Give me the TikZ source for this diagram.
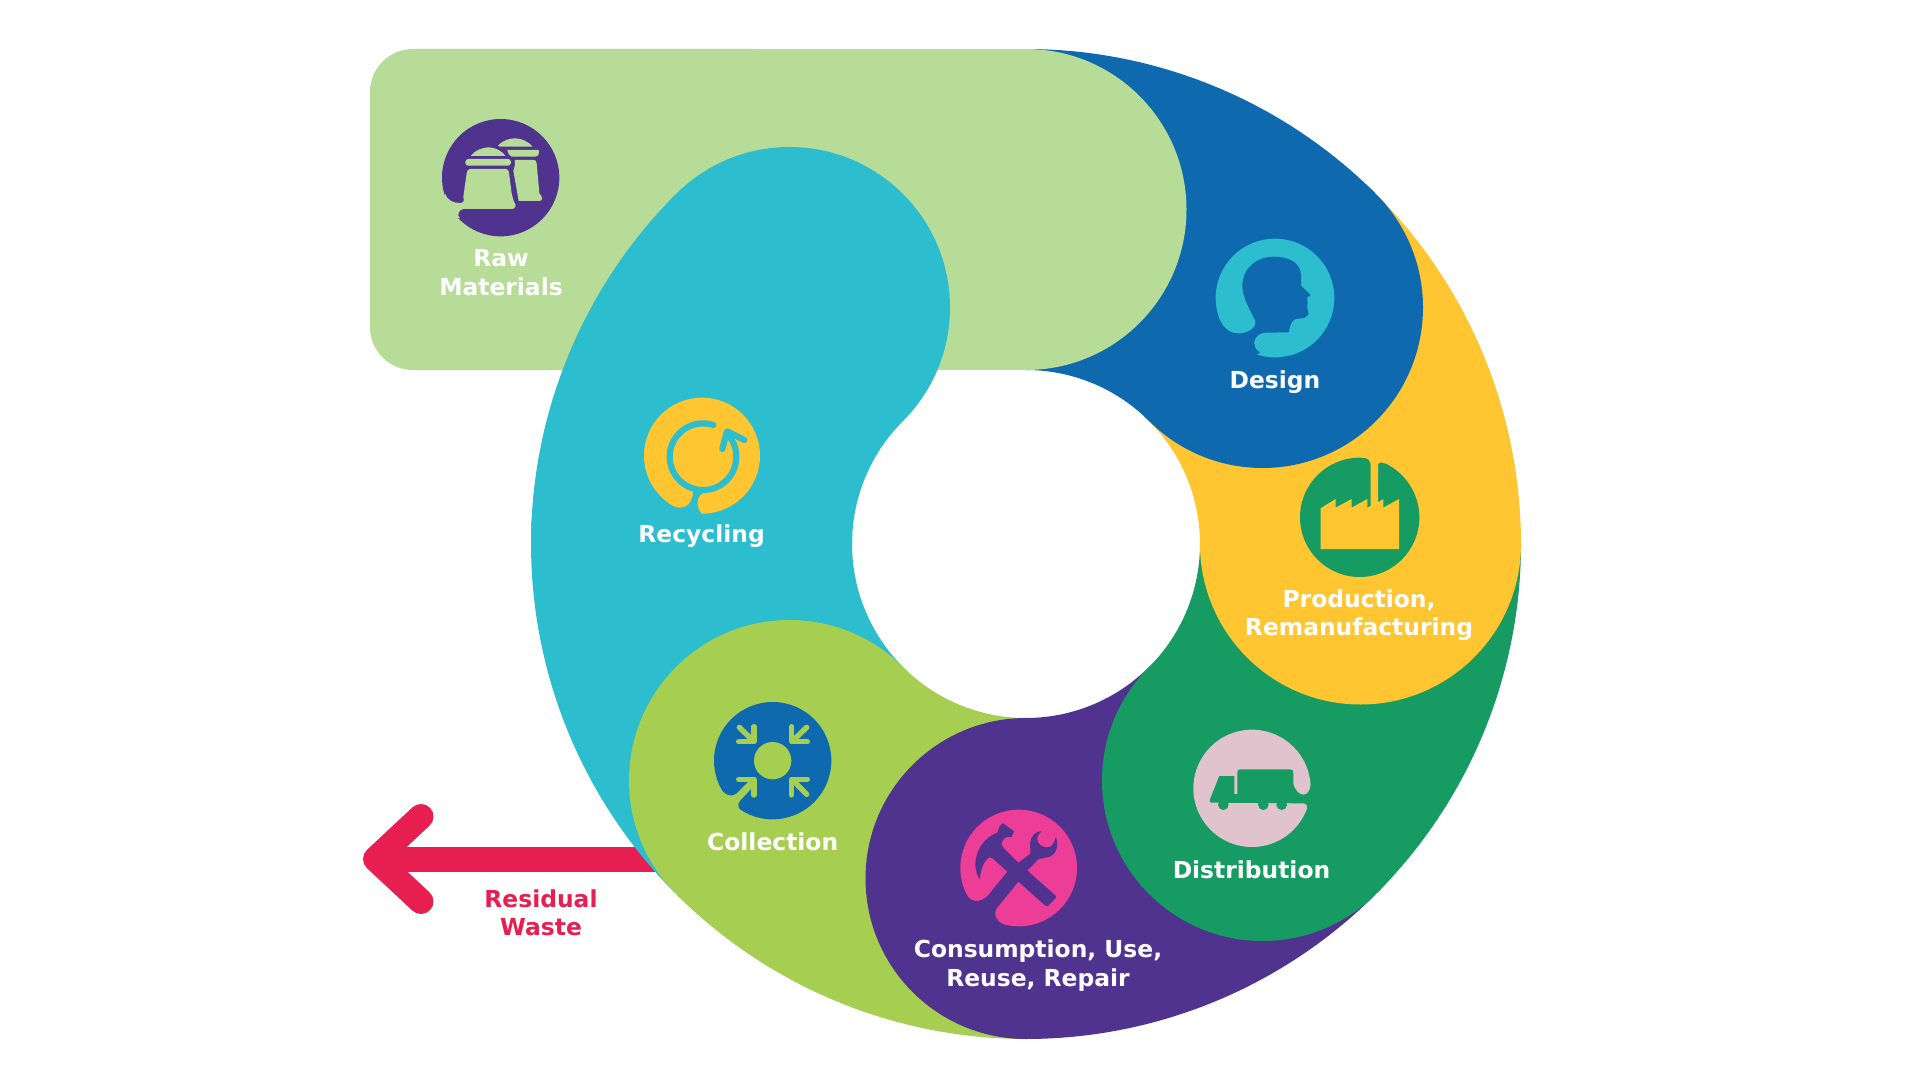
\documentclass[tikz,border=0pt]{standalone}
\usepackage{fontspec}
\setmainfont{DejaVu Sans}
\definecolor{cLight}{HTML}{B6DC97}
\definecolor{cTeal}{HTML}{2CBDCE}
\definecolor{cBlue}{HTML}{0F69AF}
\definecolor{cYellow}{HTML}{FFC631}
\definecolor{cGreen}{HTML}{169B62}
\definecolor{cPurple}{HTML}{50338F}
\definecolor{cLime}{HTML}{A6CE51}
\definecolor{cRed}{HTML}{E71F51}
\definecolor{cPink}{HTML}{EC3D97}
\definecolor{cRose}{HTML}{E0C3CD}
\tikzset{
  lbl/.style={font=\fontsize{23.4}{28.4}\selectfont\bfseries,text=white,align=center,inner sep=0pt},
  redlbl/.style={lbl,text=cRed},
  band/.style={line width=321pt,line cap=butt},
  zoomed/.style={shift={#1},scale=0.33333},
  wastearrow/.style={draw=cRed,line width=25pt,line cap=round,line join=round},
  gather/.style={draw=cLime,line width=5.4pt,line cap=round,line join=round},
  recyc/.style={draw=cTeal,line width=6.2pt,line cap=round,line join=round}
}
\newcommand{\headdot}[2]{\fill[#1] (#2) circle (160.5);}
\begin{document}
\begin{tikzpicture}[x=1pt,y=1pt,yscale=-1]
\fill[white] (0,0) rectangle (1920,1081);
\useasboundingbox (0,0) rectangle (1920,1081);
% centres of the heads (r=334.5 round 1026,544)
\coordinate (hTop) at (1026,209.5);
\coordinate (hDesign) at (1262.5,307.5);
\coordinate (hProd) at (1360.5,544);
\coordinate (hDist) at (1262.5,780.5);
\coordinate (hCons) at (1026,878.5);
\coordinate (hColl) at (789.5,780.5);
\coordinate (hLeft) at (691.5,544);
\coordinate (hRecy) at (789.5,307.5);
% waste arrow
\coordinate (aTip) at (375.5,859);
\coordinate (aWingA) at (421,816.5);
\coordinate (aWingB) at (421,901.5);
\coordinate (aEnd) at (670,859);
\draw[wastearrow] (aWingA) -- (aTip) -- (aWingB);
\draw[wastearrow,line cap=butt] (aTip) -- (aEnd);
% bands, painted so that every head lies over the tail of the next one
\draw[band,cTeal] (hColl) arc (135:183:334.5);
\draw[band,cLime] (hCons) arc (90:135:334.5);
\headdot{cLime}{hColl}
\draw[band,cPurple] (hDist) arc (45:90:334.5);
\headdot{cPurple}{hCons}
\draw[band,cGreen] (hProd) arc (0:45:334.5);
\headdot{cGreen}{hDist}
\draw[band,cYellow] (hDesign) arc (-45:0:334.5);
\headdot{cYellow}{hProd}
\draw[band,cBlue] (hTop) arc (-90:-45:334.5);
\headdot{cBlue}{hDesign}
\fill[cLight,rounded corners=43pt] (800,49) -- (370,49) -- (370,370) -- (800,370) -- cycle;
\fill[cLight] (700,49) rectangle (1026,370);
\headdot{cLight}{hTop}
\draw[band,cTeal] (hLeft) arc (180:225:334.5);
\headdot{cTeal}{hRecy}

% Raw materials icon
\begin{scope}[zoomed={(420,100)}]
\fill[cPurple] (242,233) circle (176);
\fill[cLight] (150,207) -- (258,207) .. controls (264,207) and (266,212) .. (267,218) -- (275,280) -- (281,303) .. controls (290,315) and (288,327) .. (276,327) -- (130,327) .. controls (115,330) and (110,345) .. (120,355) -- (60,340) -- (75,280) .. controls (80,300) and (100,310) .. (122,309) .. controls (133,308) and (132,300) .. (130,290) -- (140,220) .. controls (141,212) and (144,207) .. (150,207) -- cycle;
\fill[cLight,rounded corners=3pt] (136,177) rectangle (273,197);
\fill[cLight] (152,168) .. controls (165,150) and (190,142) .. (205,142) .. controls (225,142) and (245,152) .. (257,168) -- cycle;
\fill[cLight] (262,150) -- (356,150) .. controls (358,160) and (356,170) .. (345,170) -- (275,170) .. controls (268,168) and (264,160) .. (262,150) -- cycle;
\fill[cLight] (234,137) .. controls (250,120) and (270,115) .. (285,115) .. controls (305,115) and (325,125) .. (338,140) -- (240,140) -- cycle;
\fill[cLight] (285,180) -- (342,180) .. controls (347,180) and (349,184) .. (350,190) -- (358,280) .. controls (368,290) and (370,302) .. (358,303) -- (296,303) -- (280,212) .. controls (284,205) and (285,195) .. (285,180) -- cycle;
\end{scope}

% Design icon
\begin{scope}[zoomed={(1210,225)}]
\fill[cTeal] (195,219) circle (178);
\fill[cBlue] (135,285) .. controls (115,245) and (97,215) .. (97,180) .. controls (100,120) and (150,95) .. (190,95) .. controls (240,95) and (272,115) .. (273,150) -- (273,182) -- (302,210) -- (291,218) -- (293,235) -- (291,245) -- (296,268) -- (283,279) -- (258,282) .. controls (245,285) and (240,300) .. (236,322) -- (165,323) .. controls (140,325) and (125,350) .. (135,365) .. controls (138,375) and (145,380) .. (150,382) -- (100,420) -- (10,340) -- (30,285) .. controls (40,310) and (60,325) .. (85,325) .. controls (105,328) and (145,310) .. (135,285) -- cycle;
\end{scope}

% Production icon
\begin{scope}[zoomed={(1290,445)}]
\fill[cGreen] (209,217) circle (179);
\fill[cYellow] (92,190) -- (137,162) -- (137,188) -- (185,162) -- (185,188) -- (232,162) -- (232,188) -- (242,182) -- (242,60) .. controls (242,45) and (232,38) .. (215,38) -- (215,15) -- (285,15) -- (285,56) -- (275,52) .. controls (268,50) and (264,55) .. (264,65) -- (264,172) -- (280,162) -- (280,188) -- (327,162) -- (327,312) -- (92,312) -- cycle;
\end{scope}

% Distribution icon
\begin{scope}[zoomed={(1180,720)}]
\fill[cRose] (216,205) circle (176);
\fill[cGreen] (172,222) -- (172,158) .. controls (172,150) and (175,148) .. (180,148) -- (330,148) .. controls (338,148) and (340,152) .. (340,160) -- (340,190) .. controls (345,215) and (360,225) .. (372,224) .. controls (385,222) and (390,210) .. (392,195) -- (425,210) -- (425,275) -- (380,265) .. controls (384,255) and (378,250) .. (368,250) -- (94,248) .. controls (88,248) and (88,242) .. (90,238) -- (118,168) -- (163,168) -- (163,222) -- cycle;
\fill[cGreen] (130,254) circle (16);
\fill[cGreen] (250,254) circle (16);
\fill[cGreen] (305,254) circle (16);
\end{scope}

% Consumption icon
\begin{scope}[zoomed={(950,800)}]
\fill[cPink] (206,204) circle (175);
\fill[cPurple] (172,215) -- (115,285) .. controls (105,298) and (90,303) .. (78,303) .. controls (60,303) and (45,285) .. (40,262) -- (10,300) -- (100,400) -- (165,375) .. controls (140,365) and (128,345) .. (140,325) -- (205,245) -- (232,212) -- (265,178) -- (285,173) .. controls (310,172) and (330,150) .. (318,110) .. controls (312,130) and (305,142) .. (292,142) .. controls (275,142) and (262,130) .. (262,118) .. controls (262,105) and (268,100) .. (275,93) .. controls (255,95) and (242,110) .. (240,130) .. controls (240,145) and (243,155) .. (240,162) -- (205,188) -- cycle;
\fill[cPurple] (205,188) -- (232,212) -- (316,286) .. controls (320,290) and (318,293) .. (316,295) -- (296,316) .. controls (292,320) and (288,319) .. (285,316) -- (205,245) -- (172,215) -- (128,175) .. controls (122,170) and (116,172) .. (112,176) .. controls (98,190) and (92,215) .. (89,238) .. controls (75,215) and (72,190) .. (82,160) .. controls (92,130) and (115,108) .. (142,98) .. controls (146,85) and (150,72) .. (160,70) -- (192,94) -- (184,112) .. controls (175,108) and (165,110) .. (158,122) .. controls (152,130) and (155,138) .. (162,145) -- cycle;
\end{scope}

% Collection icon
\begin{scope}[zoomed={(700,690)}]
\fill[cBlue] (218,212) circle (176);
\fill[cLime] (218,212) circle (56);
\draw[gather] (118,112) -- (160,153);
\draw[gather] (116,155) -- (162,155) -- (162,110);
\draw[gather] (320,112) -- (278,153);
\draw[gather] (275,110) -- (275,155) -- (322,155);
\draw[gather] (116,268) -- (162,268) -- (162,315);
\draw[gather] (275,315) -- (275,268) -- (322,268);
\draw[gather] (278,270) -- (320,313);
\fill[cLime] (152,268) -- (108,312) .. controls (95,322) and (72,318) .. (55,285) -- (25,320) -- (90,400) -- (135,372) .. controls (115,360) and (108,345) .. (122,330) -- (164,285) -- cycle;
\end{scope}

% Recycling icon
\begin{scope}[zoomed={(625,385)}]
\fill[cYellow] (231,212) circle (174);
\draw[recyc] (265,120) arc (-72:-405:100);
\draw[recyc] (292,192) -- (306,139) -- (358,165);
\fill[cTeal] (205,312) .. controls (205,340) and (195,368) .. (165,368) .. controls (135,368) and (110,345) .. (95,320) -- (75,375) -- (200,425) -- (228,383) .. controls (218,375) and (215,355) .. (220,340) .. controls (225,325) and (240,320) .. (258,316) -- cycle;
\end{scope}

% labels
\node[lbl] (tRaw) at (501,272.5) {Raw\\Materials};
\node[lbl] (tDesign) at (1275,382) {Design};
\node[lbl] (tProd) at (1359,615) {Production,\\Remanufacturing};
\node[lbl] (tDist) at (1251.5,869.5) {Distribution};
\node[lbl] (tCons) at (1038,965.5) {Consumption, Use,\\Reuse, Repair};
\node[lbl] (tColl) at (772.7,841.5) {Collection};
\node[lbl] (tRecy) at (701.6,536) {Recycling};
\node[redlbl] (tWaste) at (541,912.5) {Residual\\Waste};
\end{tikzpicture}
\end{document}
